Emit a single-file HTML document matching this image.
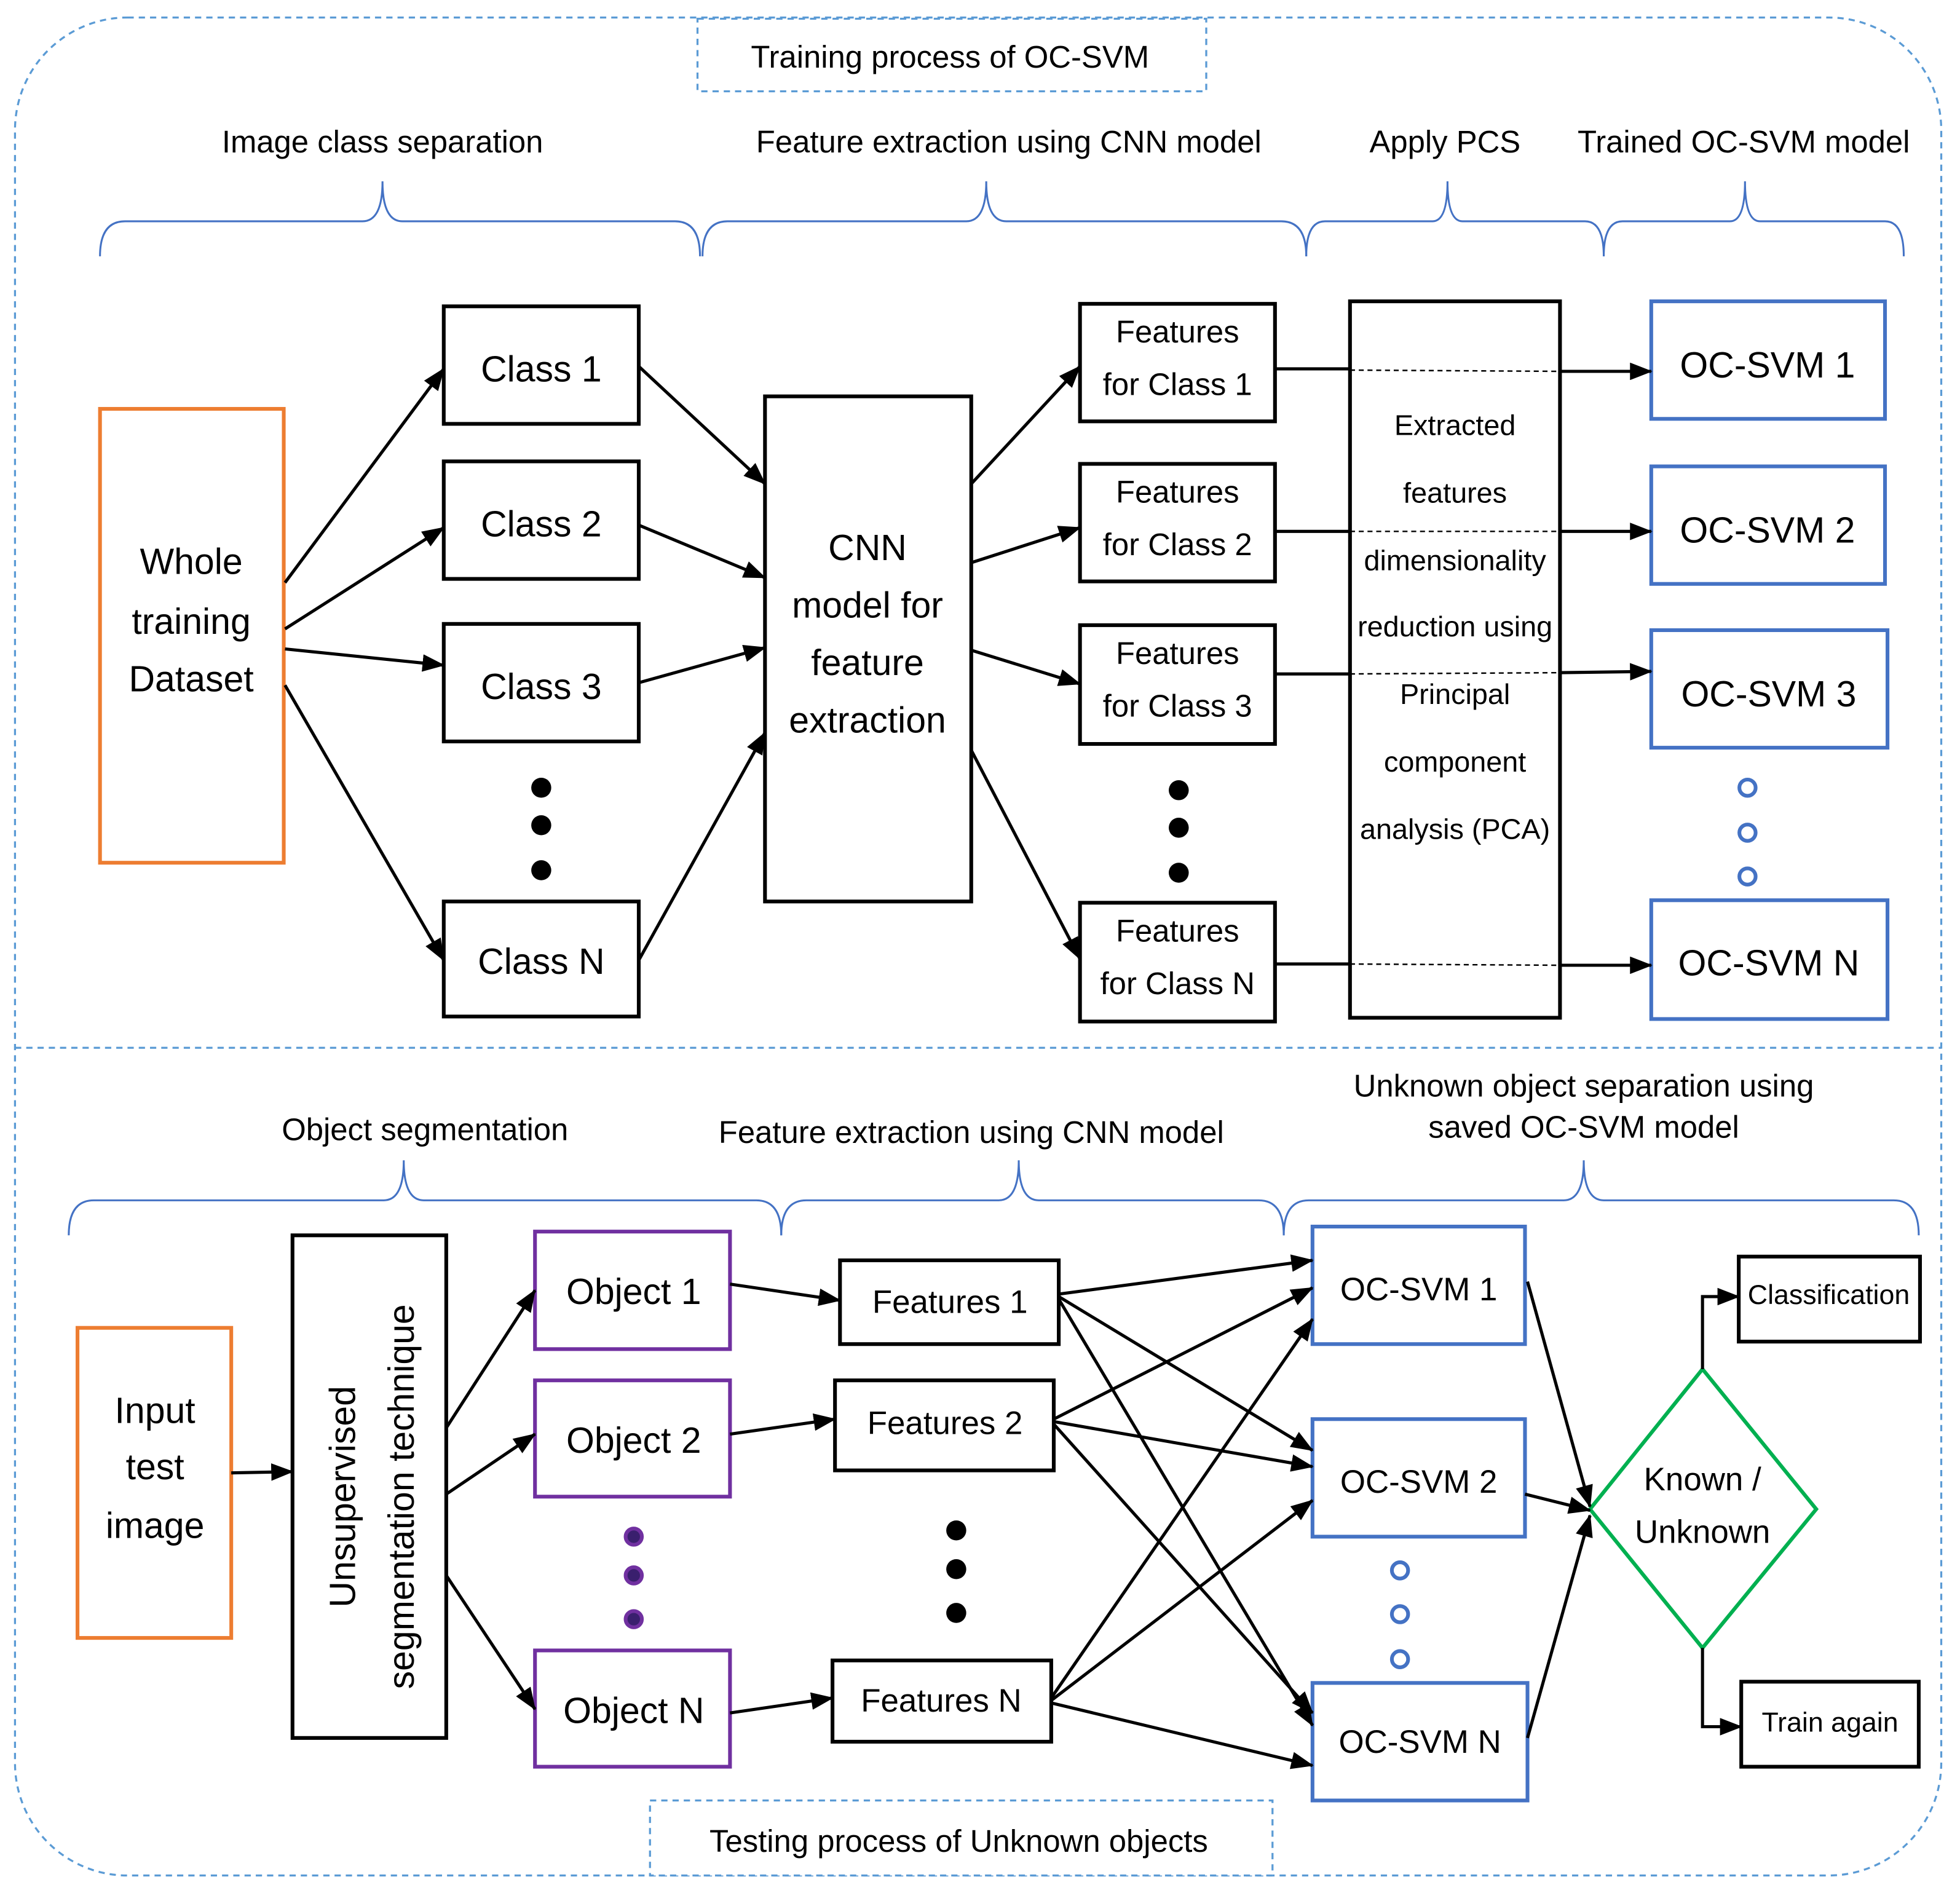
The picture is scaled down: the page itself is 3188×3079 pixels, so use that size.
<!DOCTYPE html>
<html><head><meta charset="utf-8"><style>
html,body{margin:0;padding:0;background:#fff}
svg{display:block}
text{font-family:"Liberation Sans",sans-serif;fill:#000}
</style></head><body>
<svg width="3188" height="3079" viewBox="0 0 1568 1514" preserveAspectRatio="none" xmlns="http://www.w3.org/2000/svg">
<defs>
<marker id="a" markerWidth="18" markerHeight="14" refX="17" refY="7" orient="auto" markerUnits="userSpaceOnUse"><path d="M0,0 L18,7 L0,14 z" fill="#000"/></marker>
</defs>
<g fill="none" stroke="#5b9bd5" stroke-width="1.6" stroke-dasharray="5,4">
<rect x="12" y="14" width="1541" height="1486" rx="90"/>
<line x1="12" y1="838" x2="1553" y2="838"/>
</g>
<g stroke="#5b9bd5" stroke-width="1.6" stroke-dasharray="5,4" fill="#fff">
<rect x="558" y="15" width="407" height="58"/>
<rect x="520" y="1440" width="498" height="60"/>
</g>
<g font-size="25" text-anchor="middle">
<text x="760" y="54">Training process of OC-SVM</text>
<text x="767" y="1481">Testing process of Unknown objects</text>
<text x="306" y="122">Image class separation</text>
<text x="807" y="122">Feature extraction using CNN model</text>
<text x="1156" y="122">Apply PCS</text>
<text x="1395" y="122">Trained OC-SVM model</text>
<text x="340" y="912">Object segmentation</text>
<text x="777" y="914">Feature extraction using CNN model</text>
<text x="1267" y="877">Unknown object separation using</text>
<text x="1267" y="910">saved OC-SVM model</text>
</g>
<g fill="none" stroke="#4472c4" stroke-width="1.5">
<path d="M80,205 Q80,177 100,177 L290,177 Q306,177 306,145 Q306,177 322,177 L540,177 Q560,177 560,205"/>
<path d="M562,205 Q562,177 582,177 L773,177 Q789,177 789,145 Q789,177 805,177 L1025,177 Q1045,177 1045,205"/>
<path d="M1045,205 Q1045,177 1060,177 L1146,177 Q1158,177 1158,145 Q1158,177 1170,177 L1268,177 Q1283,177 1283,205"/>
<path d="M1283,205 Q1283,177 1298,177 L1384,177 Q1396,177 1396,145 Q1396,177 1408,177 L1508,177 Q1523,177 1523,205"/>
<path d="M55,988 Q55,960 75,960 L307,960 Q323,960 323,928 Q323,960 339,960 L605,960 Q625,960 625,988"/>
<path d="M625,988 Q625,960 645,960 L799,960 Q815,960 815,928 Q815,960 831,960 L1007,960 Q1027,960 1027,988"/>
<path d="M1027,988 Q1027,960 1047,960 L1251,960 Q1267,960 1267,928 Q1267,960 1283,960 L1515,960 Q1535,960 1535,988"/>
</g>
<rect x="80" y="327" width="147" height="363" fill="none" stroke="#ed7d31" stroke-width="3"/>
<g fill="none" stroke="#000" stroke-width="3">
<rect x="355" y="245" width="156" height="94"/>
<rect x="355" y="369" width="156" height="94"/>
<rect x="355" y="499" width="156" height="94"/>
<rect x="355" y="721" width="156" height="92"/>
<rect x="612" y="317" width="165" height="404"/>
<rect x="864" y="243" width="156" height="94"/>
<rect x="864" y="371" width="156" height="94"/>
<rect x="864" y="500" width="156" height="95"/>
<rect x="864" y="722" width="156" height="95"/>
<rect x="1080" y="241" width="168" height="573"/>
</g>
<g fill="none" stroke="#4472c4" stroke-width="3">
<rect x="1321" y="241" width="187" height="94"/>
<rect x="1321" y="373" width="187" height="94"/>
<rect x="1321" y="504" width="189" height="94"/>
<rect x="1321" y="720" width="189" height="95"/>
</g>
<g font-size="29" text-anchor="middle">
<text x="153" y="459">Whole</text><text x="153" y="507">training</text><text x="153" y="553">Dataset</text>
<text x="433" y="305">Class 1</text><text x="433" y="429">Class 2</text><text x="433" y="559">Class 3</text><text x="433" y="779">Class N</text>
<text x="694" y="448">CNN</text><text x="694" y="494">model for</text><text x="694" y="540">feature</text><text x="694" y="586">extraction</text>
<text x="1414" y="302">OC-SVM 1</text><text x="1414" y="434">OC-SVM 2</text><text x="1415" y="565">OC-SVM 3</text><text x="1415" y="780">OC-SVM N</text>
</g>
<g font-size="25" text-anchor="middle">
<text x="942" y="274">Features</text><text x="942" y="316">for Class 1</text>
<text x="942" y="402">Features</text><text x="942" y="444">for Class 2</text>
<text x="942" y="531">Features</text><text x="942" y="573">for Class 3</text>
<text x="942" y="753">Features</text><text x="942" y="795">for Class N</text>
</g>
<g font-size="23" text-anchor="middle">
<text x="1164" y="348">Extracted</text><text x="1164" y="402">features</text><text x="1164" y="456">dimensionality</text><text x="1164" y="509">reduction using</text><text x="1164" y="563">Principal</text><text x="1164" y="617">component</text><text x="1164" y="671">analysis (PCA)</text>
</g>
<g fill="#000"><circle cx="433" cy="630" r="8"/><circle cx="433" cy="660" r="8"/><circle cx="433" cy="696" r="8"/>
<circle cx="943" cy="632" r="8"/><circle cx="943" cy="662" r="8"/><circle cx="943" cy="698" r="8"/></g>
<g fill="none" stroke="#4472c4" stroke-width="3"><circle cx="1398" cy="630" r="6.5"/><circle cx="1398" cy="666" r="6.5"/><circle cx="1398" cy="701" r="6.5"/>
<circle cx="1120" cy="1256" r="6.5"/><circle cx="1120" cy="1291" r="6.5"/><circle cx="1120" cy="1327" r="6.5"/></g>
<g stroke="#000" stroke-width="2.5" marker-end="url(#a)">
<line x1="228" y1="466" x2="355" y2="295"/><line x1="228" y1="503" x2="355" y2="422"/><line x1="228" y1="519" x2="355" y2="532"/><line x1="228" y1="548" x2="355" y2="768"/>
<line x1="511" y1="293" x2="612" y2="387"/><line x1="511" y1="420" x2="612" y2="462"/><line x1="511" y1="546" x2="612" y2="518"/><line x1="511" y1="768" x2="612" y2="586"/>
<line x1="777" y1="387" x2="864" y2="293"/><line x1="777" y1="450" x2="864" y2="422"/><line x1="777" y1="520" x2="864" y2="547"/><line x1="777" y1="600" x2="864" y2="767"/>
<line x1="1248" y1="297" x2="1321" y2="297"/><line x1="1248" y1="425" x2="1321" y2="425"/><line x1="1248" y1="538" x2="1321" y2="537"/><line x1="1248" y1="772" x2="1321" y2="772"/>
</g>
<g stroke="#000" stroke-width="2.5">
<line x1="1020" y1="295" x2="1080" y2="295"/><line x1="1020" y1="425" x2="1080" y2="425"/><line x1="1020" y1="539" x2="1080" y2="539"/><line x1="1020" y1="771" x2="1080" y2="771"/>
</g>
<g stroke="#000" stroke-width="1.2" stroke-dasharray="4,3">
<line x1="1080" y1="296" x2="1248" y2="297"/><line x1="1080" y1="425" x2="1248" y2="425"/><line x1="1080" y1="539" x2="1248" y2="538"/><line x1="1080" y1="771" x2="1248" y2="772"/>
</g>
<rect x="62" y="1062" width="123" height="248" fill="none" stroke="#ed7d31" stroke-width="3"/>
<g fill="none" stroke="#000" stroke-width="3">
<rect x="234" y="988" width="123" height="402"/>
<rect x="672" y="1008" width="175" height="67"/>
<rect x="668" y="1104" width="175" height="72"/>
<rect x="666" y="1328" width="175" height="65"/>
<rect x="1391" y="1005" width="145" height="68"/>
<rect x="1393" y="1345" width="142" height="68"/>
</g>
<g fill="none" stroke="#7030a0" stroke-width="3">
<rect x="428" y="985" width="156" height="94"/><rect x="428" y="1104" width="156" height="93"/><rect x="428" y="1320" width="156" height="93"/>
</g>
<g fill="none" stroke="#4472c4" stroke-width="3">
<rect x="1050" y="981" width="170" height="94"/><rect x="1050" y="1135" width="170" height="94"/><rect x="1050" y="1346" width="172" height="94"/>
</g>
<polygon points="1362,1095 1453,1207 1362,1318 1272,1207" fill="none" stroke="#00b050" stroke-width="3"/>
<g fill="#000"><circle cx="765" cy="1224" r="8"/><circle cx="765" cy="1255" r="8"/><circle cx="765" cy="1290" r="8"/></g>
<g fill="#3a1f6e" stroke="#7030a0" stroke-width="3"><circle cx="507" cy="1229" r="6.5"/><circle cx="507" cy="1260" r="6.5"/><circle cx="507" cy="1295" r="6.5"/></g>
<g font-size="29" text-anchor="middle">
<text x="124" y="1138">Input</text><text x="124" y="1183">test</text><text x="124" y="1230">image</text>
<text x="507" y="1043">Object 1</text><text x="507" y="1162">Object 2</text><text x="507" y="1378">Object N</text>
<text transform="translate(284,1197) rotate(-90)">Unsupervised</text>
<text transform="translate(331,1197) rotate(-90)">segmentation technique</text>
</g>
<g font-size="26" text-anchor="middle">
<text x="760" y="1050">Features 1</text><text x="756" y="1147">Features 2</text><text x="753" y="1369">Features N</text>
<text x="1135" y="1040">OC-SVM 1</text><text x="1135" y="1194">OC-SVM 2</text><text x="1136" y="1402">OC-SVM N</text>
<text x="1362" y="1192">Known /</text><text x="1362" y="1234">Unknown</text>
</g>
<g font-size="22" text-anchor="middle"><text x="1463" y="1043">Classification</text><text x="1464" y="1385">Train again</text></g>
<g stroke="#000" stroke-width="2.5" fill="none" marker-end="url(#a)">
<line x1="185" y1="1178" x2="234" y2="1177"/>
<line x1="357" y1="1142" x2="428" y2="1032"/><line x1="357" y1="1195" x2="428" y2="1147"/><line x1="357" y1="1260" x2="428" y2="1367"/>
<line x1="584" y1="1027" x2="672" y2="1040"/><line x1="584" y1="1147" x2="668" y2="1135"/><line x1="584" y1="1370" x2="666" y2="1358"/>
<line x1="847" y1="1035" x2="1050" y2="1008"/><line x1="847" y1="1037" x2="1050" y2="1160"/><line x1="847" y1="1039" x2="1050" y2="1380"/>
<line x1="843" y1="1135" x2="1050" y2="1030"/><line x1="843" y1="1137" x2="1050" y2="1173"/><line x1="843" y1="1139" x2="1050" y2="1370"/>
<line x1="841" y1="1358" x2="1050" y2="1055"/><line x1="841" y1="1360" x2="1050" y2="1200"/><line x1="841" y1="1362" x2="1050" y2="1412"/>
<line x1="1222" y1="1025" x2="1272" y2="1205"/><line x1="1220" y1="1195" x2="1272" y2="1208"/><line x1="1222" y1="1390" x2="1272" y2="1212"/>
<path d="M1362,1095 L1362,1037 L1391,1037"/><path d="M1362,1318 L1362,1381 L1393,1381"/>
</g>
</svg>
</body></html>
